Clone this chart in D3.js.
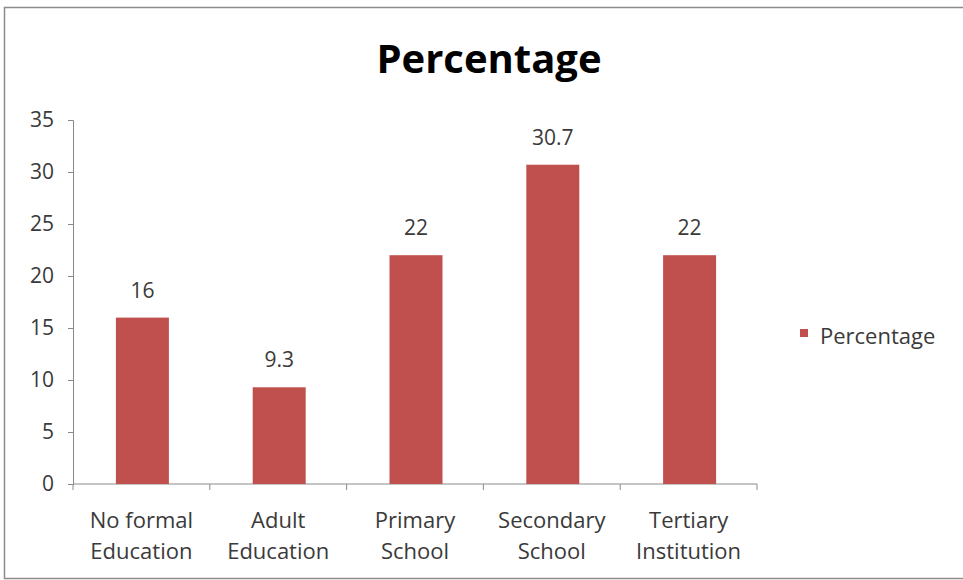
<!DOCTYPE html>
<html><head><meta charset="utf-8">
<script src="https://cdn.jsdelivr.net/npm/d3@7"></script>
<style>
body{margin:0;background:#fff;}
text{font-family:"Open Sans",Lato,sans-serif;}
</style></head>
<body><svg id="c" width="963" height="580"></svg>
<script>
const categories = [["No formal","Education"],["Adult","Education"],["Primary","School"],["Secondary","School"],["Tertiary","Institution"]];
const values = [16, 9.3, 22, 30.7, 22];
const valueLabels = ["16","9.3","22","30.7","22"];
const yTicks = [0,5,10,15,20,25,30,35];
const seriesName = "Percentage";
const title = "Percentage";

const svg = d3.select("#c");
svg.append("rect").attr("x",4.5).attr("y",7.5).attr("width",970).attr("height",571)
  .attr("fill","#fff").attr("stroke","#8c8c8c").attr("stroke-width",1.5);

const m = {left:73, right:757, top:120, bottom:484};
const x = d3.scaleBand().domain(d3.range(categories.length)).range([m.left, m.right]).paddingInner(0).paddingOuter(0);
const y = d3.scaleLinear().domain([0,35]).range([m.bottom, m.top]);

svg.append("text").attr("x",489).attr("y",73).attr("text-anchor","middle")
  .attr("font-size",40).attr("font-weight","bold").attr("fill","#000").text(title);

// y axis
const ya = svg.append("g").attr("transform",`translate(${m.left},0)`)
  .call(d3.axisLeft(y).tickValues(yTicks).tickSize(5).tickPadding(14));
ya.select(".domain").attr("stroke","#8a8a8a");
ya.selectAll("line").attr("stroke","#8a8a8a");
ya.selectAll("text").attr("font-size",21).attr("fill","#3a3a3a").attr("font-family","'Open Sans',sans-serif");

// x axis
const xa = svg.append("g").attr("transform",`translate(0,${m.bottom})`);
xa.append("line").attr("x1",m.left).attr("x2",m.right).attr("y1",0).attr("y2",0).attr("stroke","#8a8a8a");
const bounds = d3.range(categories.length+1).map(i => i<categories.length ? x(i) : x(i-1)+x.bandwidth());
xa.selectAll("line.t").data(bounds).join("line").attr("class","t")
  .attr("x1",d=>d).attr("x2",d=>d).attr("y1",0).attr("y2",6).attr("stroke","#8a8a8a");
const lab = xa.selectAll("text.c").data(categories).join("text").attr("class","c")
  .attr("text-anchor","middle").attr("font-size",22).attr("fill","#3a3a3a")
  .attr("transform",(d,i)=>`translate(${x(i)+x.bandwidth()/2},0)`);
lab.selectAll("tspan").data(d=>d).join("tspan").attr("x",0).attr("y",(d,j)=>44+j*31).text(d=>d);

// bars
const bw = 53;
svg.selectAll("rect.bar").data(values).join("rect").attr("class","bar")
  .attr("x",(d,i)=>x(i)+x.bandwidth()/2-bw/2+1).attr("width",bw)
  .attr("y",d=>y(d)).attr("height",d=>y(0)-y(d)).attr("fill","#C0504D");
svg.selectAll("text.v").data(values).join("text").attr("class","v")
  .attr("x",(d,i)=>x(i)+x.bandwidth()/2+1).attr("y",d=>y(d)-20)
  .attr("text-anchor","middle").attr("font-size",21).attr("fill","#3a3a3a")
  .text((d,i)=>valueLabels[i]);

// legend
svg.append("rect").attr("x",800).attr("y",329).attr("width",8).attr("height",8).attr("fill","#C0504D");
svg.append("text").attr("x",820).attr("y",344).attr("font-size",22).attr("fill","#3a3a3a").text(seriesName);
</script></body></html>
